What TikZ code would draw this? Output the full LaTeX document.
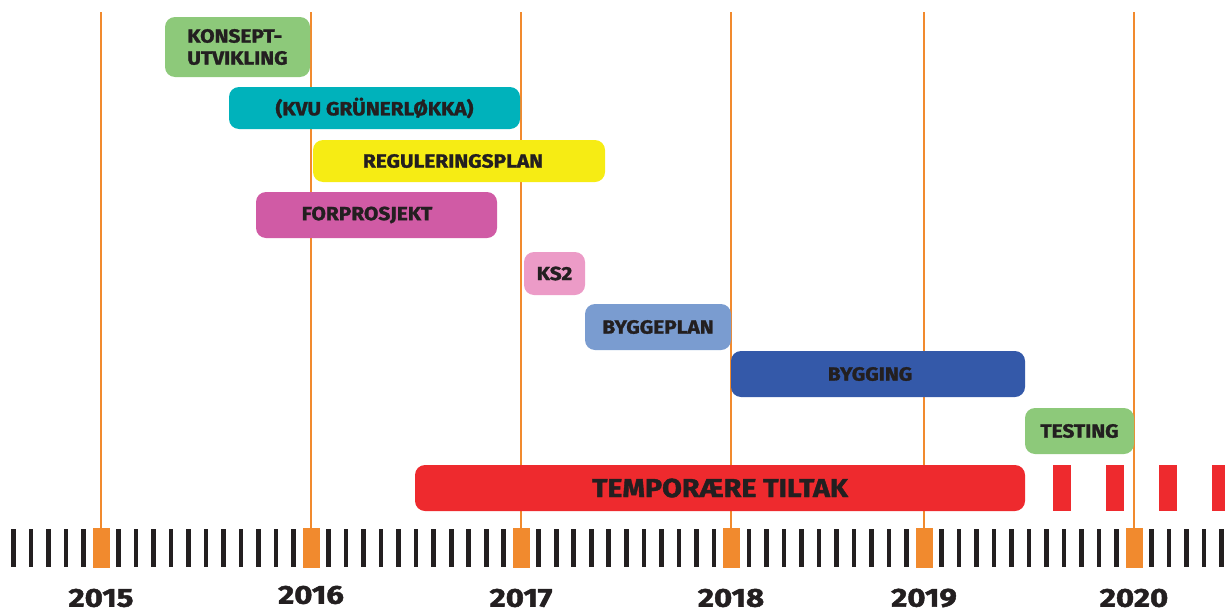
\documentclass[tikz,border=0pt]{standalone}
\usepackage{fontspec}
\setmainfont{Fira Sans}
\newfontfamily\barfont{Fira Sans}[FakeStretch=1.1, BoldFeatures={FakeBold=1.5}]
\newfontfamily\yearfont{Fira Sans}[FakeStretch=1.2, BoldFeatures={FakeBold=1.8}]
\definecolor{ink}{HTML}{231F20}
\definecolor{orng}{HTML}{F18A2E}
\definecolor{cgreen}{HTML}{8DC97A}
\definecolor{cteal}{HTML}{00B2BB}
\definecolor{cyellow}{HTML}{F6EC14}
\definecolor{cmagenta}{HTML}{D05BA5}
\definecolor{cpink}{HTML}{EC9BC7}
\definecolor{clblue}{HTML}{7A9CD0}
\definecolor{cdblue}{HTML}{3459A9}
\definecolor{cred}{HTML}{EE2A2E}
\tikzset{
  bar/.style={rounded corners=10pt, inner sep=0pt, text=ink, font=\barfont\fontsize{19}{19}\selectfont\bfseries},
  dashbar/.style={fill=cred, inner sep=0pt, minimum width=18pt, minimum height=46pt},
  yearbox/.style={fill=orng, inner sep=0pt, minimum width=17pt, minimum height=40pt},
  yearline/.style={draw=orng, line width=2pt},
  tick/.style={fill=ink},
  yearlabel/.style={text=ink, font=\yearfont\fontsize{26}{26}\selectfont\bfseries, inner sep=0pt}
}
\begin{document}
\begin{tikzpicture}[x=1pt,y=-1pt]
\useasboundingbox (0,0) rectangle (1225,613);
% month ticks
\foreach \k in {-5,...,64} {
  \pgfmathsetmacro{\xx}{101+17.51*\k}
  \fill[tick] (\xx-2.3,529) rectangle (\xx+2.3,567);
}
% year boxes and lines
\foreach \yr/\xx in {2015/101,2016/311.1,2017/521.2,2018/731,2019/924,2020/1134.1} {
  \node[yearbox] (b\yr) at (\xx,548) {};
  \coordinate (t\yr) at (\xx,12);
  \draw[yearline] (t\yr) -- (b\yr.north);
}
% year labels
\node[yearlabel] (l2015) at (101,598) {2015};
\node[yearlabel] (l2016) at (311,595) {2016};
\node[yearlabel] (l2017) at (521,598) {2017};
\node[yearlabel] (l2018) at (731,598) {2018};
\node[yearlabel] (l2019) at (924,598) {2019};
\node[yearlabel] (l2020) at (1134,598) {2020};
% bars
\node[bar, fill=cgreen, minimum width=145pt, minimum height=60pt, align=left] (konsept) at (237.5,47) {KONSEPT-\\[3pt]UTVIKLING};
\node[bar, fill=cteal, minimum width=291pt, minimum height=42pt] (kvu) at (374.5,108) {(KVU GRÜNERLØKKA)};
\node[bar, fill=cyellow, minimum width=292pt, minimum height=42pt] (regplan) at (459,161) {REGULERINGSPLAN\hspace*{12pt}};
\node[bar, fill=cmagenta, minimum width=241pt, minimum height=46pt] (forpro) at (376.5,215) {FORPROSJEKT\hspace*{19pt}};
\node[bar, fill=cpink, minimum width=61pt, minimum height=43pt] (ks2) at (554.5,273.5) {KS2};
\node[bar, fill=clblue, minimum width=146pt, minimum height=46pt] (byggeplan) at (658,327) {BYGGEPLAN};
\node[bar, fill=cdblue, minimum width=294pt, minimum height=46pt] (bygging) at (878,374) {BYGGING\hspace*{16pt}};
\node[bar, fill=cgreen, minimum width=109pt, minimum height=46pt] (testing) at (1079.5,431) {TESTING};
\node[bar, fill=cred, minimum width=610pt, minimum height=46pt, font=\barfont\fontsize{26}{26}\selectfont\bfseries] (temp) at (720,488) {TEMPORÆRE TILTAK};
% dashed continuation
\node[dashbar] (d1) at (1062,488) {};
\node[dashbar] (d2) at (1115,488) {};
\node[dashbar] (d3) at (1168,488) {};
\node[dashbar] (d4) at (1221,488) {};
\end{tikzpicture}
\end{document}
